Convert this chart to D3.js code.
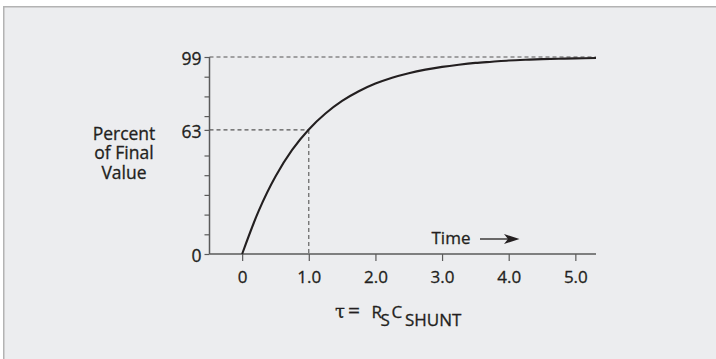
<!DOCTYPE html>
<html>
<head>
<meta charset="utf-8">
<script src="https://cdn.jsdelivr.net/npm/d3@7"></script>
<style>
  html, body { margin: 0; padding: 0; background: #ffffff; }
  svg { display: block; }
  text { font-family: "Open Sans", "Noto Sans", sans-serif; fill: #231f20; stroke: #231f20; stroke-width: 0.3px; }
</style>
</head>
<body>
<svg id="chart" width="716" height="359"></svg>
<script>
// ---- data ----
const timeValues    = [0, 0.25, 0.5, 0.75, 1.0, 1.25, 1.5, 1.75, 2.0, 2.25, 2.5, 2.75, 3.0, 3.25, 3.5, 3.75, 4.0, 4.25, 4.5, 4.75, 5.0, 5.31];
const percentValues = [0, 22, 39.3, 52.8, 63.2, 71.3, 77.7, 82.6, 86.5, 89.5, 91.8, 93.6, 95, 96.1, 97, 97.6, 98.2, 98.6, 98.9, 99.1, 99.3, 99.5];

const xTickValues = [0, 1, 2, 3, 4, 5];
const xTickLabels = ["0", "1.0", "2.0", "3.0", "4.0", "5.0"];

const yTickValues = [0, 10, 20, 30, 40, 50, 63, 70, 80, 90, 100];
const yTickLabels = ["0", "", "", "", "", "", "63", "", "", "", "99"];

const markerTime = 1.0;     // one time constant
const markerPercent = 63;
const topPercent = 100;     // the "99" guide line

const yLabelLines = ["Percent", "of Final", "Value"];
const timeLabel = "Time";

// ---- drawing ----
const svg = d3.select("#chart");

// panel
svg.append("rect")
  .attr("x", 3.75).attr("y", 6.75)
  .attr("width", 740).attr("height", 380)
  .attr("fill", "#ecedef")
  .attr("stroke", "#b3b3b3").attr("stroke-width", 1.5);

const x = d3.scaleLinear().domain([-0.49, 5.31]).range([209.5, 596]);
const y = d3.scaleLinear().domain([0, 100]).range([254, 57]);

const axisColor = "#5a5a5a";

// dashed guides
const g = svg.append("g");
g.append("line")
  .attr("x1", x(-0.49)).attr("x2", x(5.31))
  .attr("y1", y(topPercent)).attr("y2", y(topPercent))
  .attr("stroke", "#555").attr("stroke-width", 1.1).attr("stroke-dasharray", "4,3");
g.append("line")
  .attr("x1", x(-0.49)).attr("x2", x(markerTime))
  .attr("y1", y(markerPercent)).attr("y2", y(markerPercent))
  .attr("stroke", "#555").attr("stroke-width", 1.1).attr("stroke-dasharray", "4,3");
g.append("line")
  .attr("x1", x(markerTime)).attr("x2", x(markerTime))
  .attr("y1", y(markerPercent)).attr("y2", y(0))
  .attr("stroke", "#555").attr("stroke-width", 1.1).attr("stroke-dasharray", "4,3");

// y axis
const yAxis = d3.axisLeft(y)
  .tickValues(yTickValues)
  .tickFormat((d, i) => yTickLabels[i])
  .tickSize(5).tickPadding(3);
const yg = svg.append("g").attr("transform", `translate(${x(-0.49)},0)`).call(yAxis);
yg.select(".domain").attr("stroke", axisColor).attr("stroke-width", 1.5).attr("d", `M0,${y(0)}V${y(100)}`);
yg.selectAll(".tick line").attr("stroke", axisColor).attr("stroke-width", 1.2);
yg.selectAll(".tick text").attr("font-size", 17.5).attr("fill", "#231f20")
  .attr("font-family", "'Open Sans', sans-serif").attr("dy", "0.42em");

// x axis
const xAxis = d3.axisBottom(x)
  .tickValues(xTickValues)
  .tickFormat((d, i) => xTickLabels[i])
  .tickSize(7).tickPadding(10);
const xg = svg.append("g").attr("transform", `translate(0,${y(0)})`).call(xAxis);
xg.select(".domain").attr("stroke", axisColor).attr("stroke-width", 1.5).attr("d", `M${x(-0.49)},0H${x(5.31)}`);
xg.selectAll(".tick line").attr("stroke", axisColor).attr("stroke-width", 1.2);
xg.selectAll(".tick text").attr("font-size", 17).attr("fill", "#231f20")
  .attr("font-family", "'Open Sans', sans-serif");

// curve
const line = d3.line()
  .x((d, i) => x(timeValues[i]))
  .y(d => y(d))
  .curve(d3.curveCatmullRom.alpha(0.5));
svg.append("path")
  .datum(percentValues)
  .attr("d", line)
  .attr("fill", "none")
  .attr("stroke", "#231f20")
  .attr("stroke-width", 2.1);

// y label
const yl = svg.append("text")
  .attr("text-anchor", "middle")
  .attr("font-size", 17.5);
yLabelLines.forEach((t, i) => {
  yl.append("tspan").attr("x", 124).attr("y", 139.5 + i * 19.5).text(t);
});

// Time arrow
svg.append("text")
  .attr("x", 431.5).attr("y", 244.3)
  .attr("font-size", 17)
  .text(timeLabel);
svg.append("line")
  .attr("x1", 480).attr("x2", 508).attr("y1", 239).attr("y2", 239)
  .attr("stroke", "#231f20").attr("stroke-width", 1.3);
svg.append("path")
  .attr("d", "M519.5,239 L504,234 L508,239 L504,244 Z")
  .attr("fill", "#231f20");

// formula
const f = svg.append("text")
  .attr("y", 318.3)
  .attr("font-size", 17);
f.append("tspan").attr("x", 335).attr("font-family", "'DejaVu Serif', serif").attr("font-size", 18).text("τ");
f.append("tspan").attr("x", 348).attr("font-size", 21).text("=");
f.append("tspan").attr("x", 371.5).text("R");
f.append("tspan").attr("x", 380.5).attr("dy", 8).text("S");
f.append("tspan").attr("x", 391.5).attr("dy", -8).text("C");
f.append("tspan").attr("x", 405).attr("dy", 8).text("SHUNT");
</script>
</body>
</html>
